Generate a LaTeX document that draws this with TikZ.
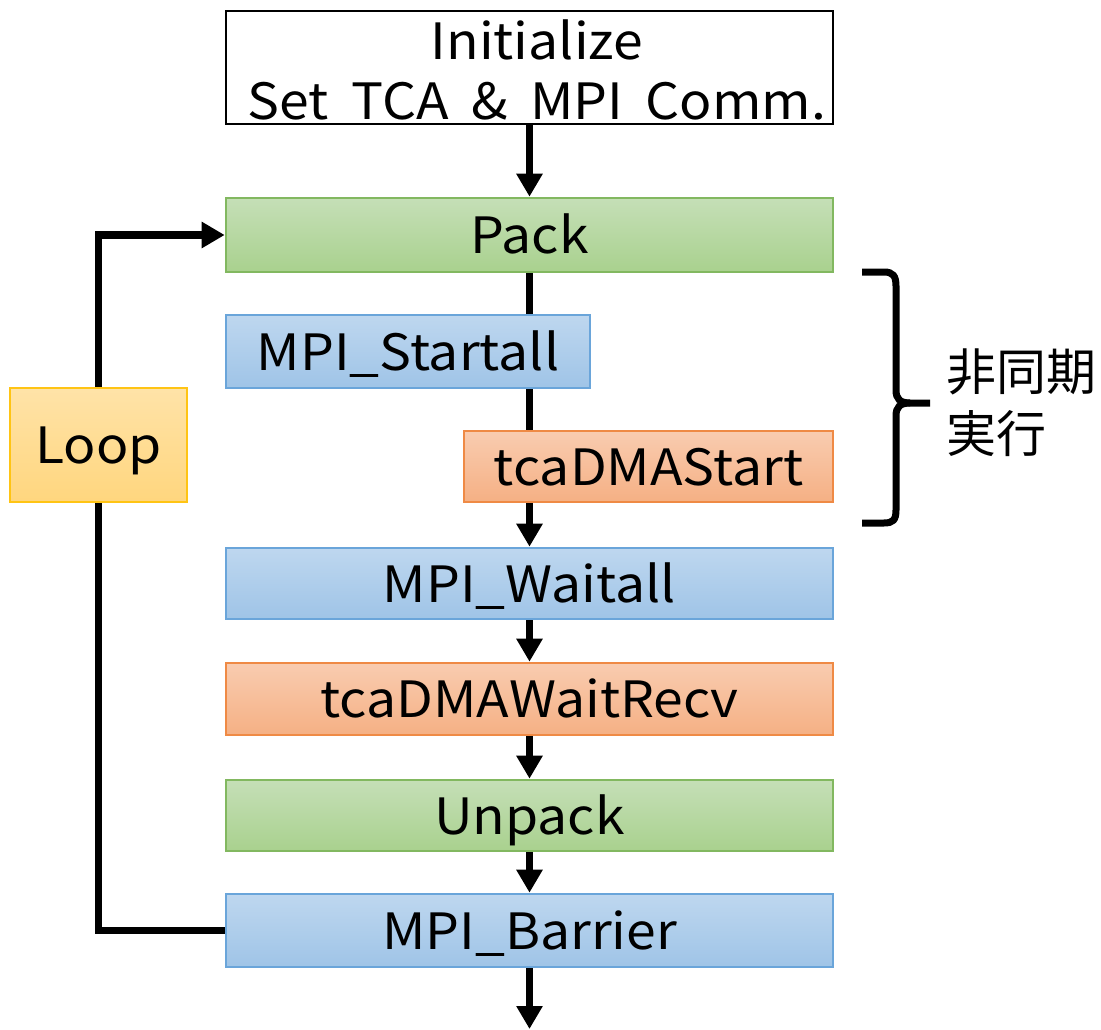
\documentclass[tikz,border=0pt]{standalone}
\usepackage{fontspec}
\setmainfont{Noto Sans CJK JP}[FakeStretch=1.07]
\newfontfamily\jpfont{Noto Sans CJK JP}
\usetikzlibrary{arrows.meta}
\definecolor{grnT}{HTML}{C5DFB7}
\definecolor{grnB}{HTML}{A9D18E}
\definecolor{grnE}{HTML}{82B860}
\definecolor{bluT}{HTML}{BED7EF}
\definecolor{bluB}{HTML}{9FC4E7}
\definecolor{bluE}{HTML}{6AA5DA}
\definecolor{orgT}{HTML}{F9CCB0}
\definecolor{orgB}{HTML}{F5B084}
\definecolor{orgE}{HTML}{EF8A45}
\definecolor{ylwT}{HTML}{FFE3A8}
\definecolor{ylwB}{HTML}{FFD67E}
\definecolor{ylwE}{HTML}{FFC414}
\tikzset{
  x=1pt, y=-1pt,
  txt/.style={font=\fontsize{50}{60}\selectfont, text height=37pt, text depth=0pt, inner sep=0pt},
  stepbox/.style={txt, draw, line width=2.6pt, minimum width=607pt, minimum height=73pt},
  greenbox/.style={stepbox, draw=grnE, top color=grnT, bottom color=grnB},
  bluebox/.style={stepbox, draw=bluE, top color=bluT, bottom color=bluB},
  orangebox/.style={stepbox, draw=orgE, top color=orgT, bottom color=orgB},
  flow/.style={line width=7.5pt, -{Triangle[width=25pt,length=23pt]}},
  plain/.style={line width=7.5pt},
}
\begin{document}
\begin{tikzpicture}
\useasboundingbox (0,0) rectangle (1101,1030);

% process boxes
\node[draw=black, line width=2.4pt, minimum width=607pt, minimum height=113pt, inner sep=0pt] (init) at (529.5,67.5) {};
\node[font=\fontsize{50}{60}\selectfont, align=center, inner sep=0pt] (inittxt) at (537,70)
  {Initialize\\Set\hspace{0.45em}TCA\hspace{0.45em}\&\hspace{0.45em}MPI\hspace{0.45em}Comm.};
\node[greenbox, minimum height=74pt] (pack) at (529.5,235) {Pack};
\node[bluebox, minimum width=364pt] (startall) at (408,351.5) {MPI\_Startall};
\node[orangebox, minimum width=369pt, minimum height=71pt] (dmastart) at (648.5,466.5) {tcaDMAStart};
\node[bluebox, minimum height=71pt] (waitall) at (529.5,583.5) {MPI\_Waitall};
\node[orangebox, minimum height=72pt] (waitrecv) at (529.5,699) {tcaDMAWaitRecv};
\node[greenbox, minimum height=71pt] (unpack) at (529.5,815.5) {Unpack};
\node[bluebox] (barrier) at (529.5,930.5) {MPI\_Barrier};
\node[txt, draw=ylwE, line width=2.6pt, top color=ylwT, bottom color=ylwB,
      minimum width=177pt, minimum height=114pt] (loop) at (98.5,445) {Loop};
\coordinate (exit) at (529.5,1029);

% main flow
\draw[flow] (init.south) -- (pack.north);
\draw[plain] (pack.south) -- (pack.south |- startall.north);
\draw[plain] (pack.south |- startall.south) -- (pack.south |- dmastart.north);
\draw[flow] (pack.south |- dmastart.south) -- (waitall.north);
\draw[flow] (waitall.south) -- (waitrecv.north);
\draw[flow] (waitrecv.south) -- (unpack.north);
\draw[flow] (unpack.south) -- (barrier.north);
\draw[flow] (barrier.south) -- (exit);

% loop back
\draw[plain, line join=miter] (barrier.west) -| (loop.south);
\draw[flow, line join=miter] (loop.north) |- (pack.west);

% brace over the asynchronous part
\draw[line width=7pt]
  (862,272) -- (884,272) .. controls (893,272) and (896,276) .. (896,286)
  -- (896,390) .. controls (896,399) and (900,403) .. (910,403) -- (930,403);
\draw[line width=7pt]
  (910,403) .. controls (900,403) and (896,407) .. (896,416)
  -- (896,510) .. controls (896,520) and (893,523) .. (884,523) -- (862,523);
\node[font=\jpfont\fontsize{50}{62}\selectfont, align=left, anchor=west, inner sep=0pt] (async) at (946,403) {非同期\\実行};
\end{tikzpicture}
\end{document}
